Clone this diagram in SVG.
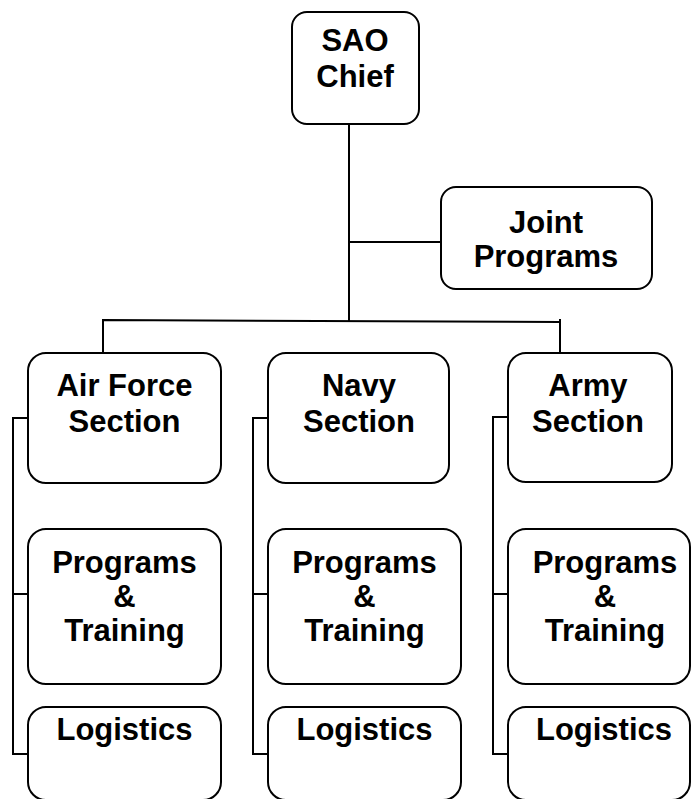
<svg xmlns="http://www.w3.org/2000/svg" width="691" height="799" viewBox="0 0 691 799">
<style>
.box{fill:#fff;stroke:#000;stroke-width:2}
.lbl{font-family:"Liberation Sans",Arial,sans-serif;font-weight:bold;font-size:31px;fill:#000;text-anchor:middle}
.con line, .con polyline{stroke:#000;stroke-width:2;fill:none}
</style>
<rect width="691" height="799" fill="#fff"/>
<g class="con" id="connectors">
<line x1="349" y1="124" x2="349" y2="322"/>
<line x1="348" y1="242" x2="441" y2="242"/>
<polyline points="103,353 103,320 560,322"/>
<line x1="560" y1="319" x2="560" y2="353"/>
<polyline points="28,418 13,418 13,754 28,754"/>
<line x1="13" y1="594" x2="28" y2="594"/>
<polyline points="268,418 253,418 253,754 268,754"/>
<line x1="253" y1="594" x2="268" y2="594"/>
<polyline points="508,417 493,417 493,754 508,754"/>
<line x1="493" y1="594" x2="508" y2="594"/>
</g>
<g id="sao-chief">
<rect class="box" x="292" y="12" width="127" height="112" rx="15"/>
<text class="lbl" x="355" y="51">SAO</text>
<text class="lbl" x="355" y="87">Chief</text>
</g>
<g id="joint-programs">
<rect class="box" x="441" y="187" width="211" height="102" rx="15"/>
<text class="lbl" x="546" y="233">Joint</text>
<text class="lbl" x="546" y="267">Programs</text>
</g>
<g id="air-force-section">
<rect class="box" x="28" y="353" width="193" height="130" rx="18"/>
<text class="lbl" x="124.5" y="396">Air Force</text>
<text class="lbl" x="124.5" y="432">Section</text>
</g>
<g id="navy-section">
<rect class="box" x="268" y="353" width="181" height="130" rx="18"/>
<text class="lbl" x="359" y="396">Navy</text>
<text class="lbl" x="359" y="432">Section</text>
</g>
<g id="army-section">
<rect class="box" x="508" y="353" width="164" height="129" rx="18"/>
<text class="lbl" x="588" y="396">Army</text>
<text class="lbl" x="588" y="432">Section</text>
</g>
<g id="af-programs-training">
<rect class="box" x="28" y="529" width="193" height="155" rx="18"/>
<text class="lbl" x="124.5" y="573">Programs</text>
<text class="lbl" x="124.5" y="607">&amp;</text>
<text class="lbl" x="124.5" y="641">Training</text>
</g>
<g id="navy-programs-training">
<rect class="box" x="268" y="529" width="193" height="155" rx="18"/>
<text class="lbl" x="364.5" y="573">Programs</text>
<text class="lbl" x="364.5" y="607">&amp;</text>
<text class="lbl" x="364.5" y="641">Training</text>
</g>
<g id="army-programs-training">
<rect class="box" x="508" y="529" width="182" height="155" rx="18"/>
<text class="lbl" x="605" y="573">Programs</text>
<text class="lbl" x="605" y="607">&amp;</text>
<text class="lbl" x="605" y="641">Training</text>
</g>
<g id="af-logistics">
<rect class="box" x="28" y="707" width="193" height="93" rx="18"/>
<text class="lbl" x="124.5" y="740">Logistics</text>
</g>
<g id="navy-logistics">
<rect class="box" x="268" y="707" width="193" height="93" rx="18"/>
<text class="lbl" x="364.5" y="740">Logistics</text>
</g>
<g id="army-logistics">
<rect class="box" x="508" y="707" width="182" height="93" rx="18"/>
<text class="lbl" x="604" y="740">Logistics</text>
</g>
</svg>
